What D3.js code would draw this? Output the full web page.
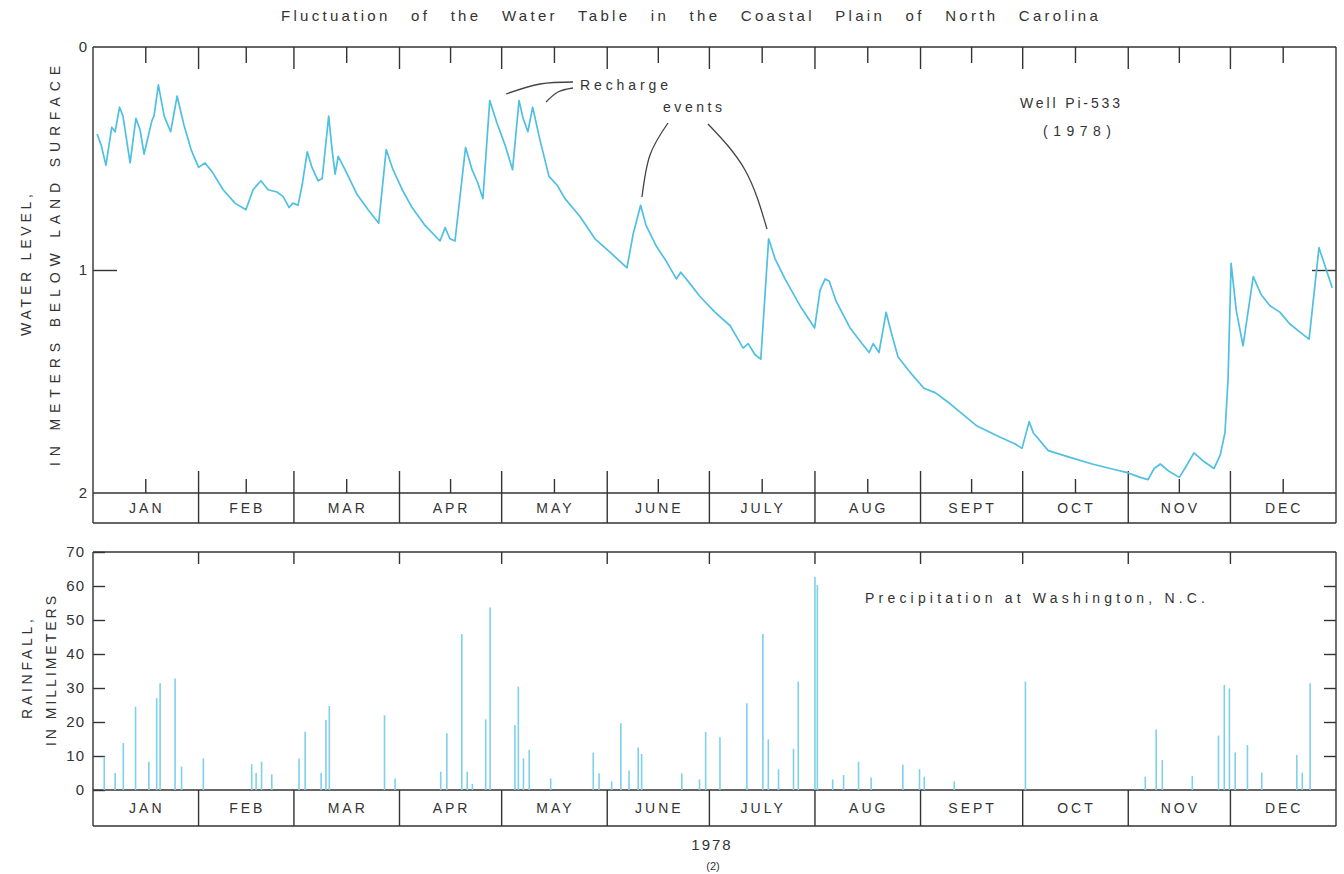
<!DOCTYPE html>
<html lang="en">
<head>
<meta charset="UTF-8">
<title>Fluctuation of the Water Table</title>
<script src="https://d3js.org/d3.v7.min.js"></script>
<style>
  body { margin: 0; background: #fff; }
  svg text { font-family: "Liberation Sans", "DejaVu Sans", sans-serif; fill: #333; }
</style>
</head>
<body>
<svg width="1344" height="874"></svg>
<script>
// months of 1978
var months = ['JAN','FEB','MAR','APR','MAY','JUNE','JULY','AUG','SEPT','OCT','NOV','DEC'];
var monthDays = [31,28,31,30,31,30,31,31,30,31,30,31];

// water level, meters below land surface (day of year, value)
var levelDay = [1.2,2.4,3.8,5.5,6.5,7.8,8.8,10.9,12.6,13.8,15.0,17.3,17.9,19.2,20.9,22.8,24.7,26.7,28.8,31.0,
  32.9,35.0,38.2,41.7,44.9,47.0,49.3,51.4,54.0,55.8,57.6,58.7,60.2,61.4,62.9,64.3,66.1,67.3,69.2,70.2,
  71.1,72.0,74.0,77.5,80.8,83.9,86.1,88.1,90.8,93.7,97.5,101.9,103.4,104.8,106.3,109.4,111.3,113.0,114.5,116.5,
  118.6,121.0,123.2,125.1,126.3,127.7,129.1,131.3,133.9,136.3,138.6,143.0,147.4,151.8,156.8,158.6,160.8,162.4,165.3,168.3,
  171.3,172.6,174.7,178.3,182.7,187.1,189.4,190.9,192.4,194.4,196.1,198.4,200.3,203.2,207.6,211.9,213.5,215.0,216.2,218.2,
  222.3,225.8,227.9,229.1,230.8,232.9,234.4,236.4,240.0,244.0,247.3,251.7,259.6,266.4,270.8,272.8,274.9,276.1,280.5,286.9,
  293.4,298.7,304.0,307.5,309.8,311.6,313.4,315.7,319.0,321.0,323.3,326.3,329.2,331.0,332.4,333.3,334.2,335.7,337.7,340.7,
  343.0,345.6,348.6,351.3,354.5,357.1,360.0,361.3,363.9];
var levelValue = [0.39,0.44,0.53,0.36,0.38,0.27,0.31,0.52,0.32,0.37,0.48,0.33,0.31,0.17,0.31,0.38,0.22,0.35,0.46,0.54,
  0.52,0.56,0.64,0.70,0.73,0.64,0.60,0.64,0.65,0.67,0.72,0.70,0.71,0.62,0.47,0.54,0.60,0.59,0.31,0.46,
  0.57,0.49,0.55,0.66,0.73,0.79,0.46,0.55,0.64,0.72,0.80,0.87,0.81,0.86,0.87,0.45,0.55,0.61,0.68,0.24,
  0.34,0.44,0.55,0.24,0.32,0.38,0.27,0.42,0.58,0.62,0.68,0.76,0.86,0.92,0.99,0.84,0.71,0.80,0.89,0.96,
  1.04,1.01,1.05,1.12,1.19,1.25,1.31,1.35,1.33,1.38,1.40,0.86,0.95,1.04,1.16,1.26,1.09,1.04,1.05,1.14,
  1.26,1.33,1.37,1.33,1.37,1.19,1.28,1.39,1.46,1.53,1.55,1.60,1.70,1.75,1.78,1.80,1.68,1.73,1.81,1.84,
  1.87,1.89,1.91,1.93,1.94,1.89,1.87,1.90,1.93,1.88,1.82,1.86,1.89,1.83,1.73,1.49,0.97,1.18,1.34,1.03,
  1.11,1.16,1.19,1.24,1.28,1.31,0.90,0.96,1.08];

// daily rainfall at Washington, N.C., mm
var rainDay = [3.3,6.5,8.9,12.5,16.4,18.7,19.7,24.1,26.0,32.4,46.6,47.9,49.5,52.5,60.5,62.3,67.0,68.4,69.4,85.6,
  88.7,102.1,103.9,108.3,109.9,111.4,115.3,116.6,123.9,124.9,126.4,128.1,134.4,146.9,148.6,152.3,155.0,157.4,160.1,161.1,
  172.9,178.1,179.9,184.1,192.0,196.7,198.3,201.3,205.7,207.1,212.0,212.7,217.2,220.4,224.8,228.5,237.8,242.7,244.1,252.9,
  273.8,309.0,312.2,314.0,322.8,330.5,332.2,333.7,335.4,339.0,343.2,353.5,355.1,357.4];
var rainMm = [9.8,5,13.8,24.5,8.3,27,31.4,32.8,6.9,9.3,7.6,5,8.3,4.6,9.3,17.1,5,20.6,24.7,22,
  3.4,5.4,16.7,45.9,5.4,1.8,20.8,53.7,19.1,30.4,9.3,11.8,3.4,11,4.9,2.5,19.6,5.7,12.5,10.6,
  4.9,3.1,17.1,15.5,25.5,45.9,14.9,6.1,12.1,31.9,62.7,60.3,3.1,4.4,8.3,3.7,7.4,6.1,3.9,2.5,
  31.9,3.9,17.8,8.8,4.1,16,30.9,29.9,11,13.2,5.1,10.3,5.1,31.4];

var levelTicks = [0, 1, 2];
var rainTicks = [0, 10, 20, 30, 40, 50, 60, 70];

var svg = d3.select('svg');
var ink = '#333';
var blue = '#4fc0e2';

var left = 93, right = 1336;
var x = d3.scaleLinear().domain([0, 365]).range([left, right]);
var yTop = d3.scaleLinear().domain([0, 2]).range([47, 493]);
var yBot = d3.scaleLinear().domain([0, 70]).range([790, 552]);

// month boundaries and mid points
var bounds = [0];
monthDays.forEach(function(d, i) { bounds.push(bounds[i] + d); });
var mids = months.map(function(m, i) { return (bounds[i] + bounds[i + 1]) / 2; });

function line(x1, y1, x2, y2, w) {
  svg.append('line').attr('x1', x1).attr('y1', y1).attr('x2', x2).attr('y2', y2)
    .attr('stroke', ink).attr('stroke-width', w || 1.4);
}

// frame, month band and ticks of one panel
function panel(y0, y1, bandH, topTick, topMid, botTick, botMid) {
  var yb = y1 + bandH;
  line(left, y0, right, y0);
  line(left, y1, right, y1);
  line(left, yb, right, yb);
  line(left, y0, left, yb);
  line(right, y0, right, yb);
  bounds.slice(1, -1).forEach(function(d) {
    line(x(d), y0, x(d), y0 + topTick);
    line(x(d), y1 - botTick, x(d), yb);
  });
  mids.forEach(function(d) {
    if (topMid) line(x(d), y0, x(d), y0 + topMid);
    if (botMid) line(x(d), y1 - botMid, x(d), y1);
  });
  svg.append('g').selectAll('text').data(months).enter().append('text')
    .attr('x', function(d, i) { return x(mids[i]) + 1; })
    .attr('y', y1 + bandH / 2 + 5)
    .attr('text-anchor', 'middle')
    .attr('font-size', 14)
    .attr('letter-spacing', 3)
    .text(function(d) { return d; });
}

// ---- water level panel ----
panel(yTop(0), yTop(2), 30, 22, 16, 22, 14);

var axL = svg.append('g').attr('transform', 'translate(' + left + ',0)')
  .call(d3.axisLeft(yTop).tickValues(levelTicks).tickSize(-24).tickPadding(6).tickFormat(d3.format('d')));
axL.select('.domain').remove();
axL.selectAll('line').attr('stroke', ink).attr('stroke-width', 1.4)
  .filter(function(d) { return d !== 1; }).remove();
axL.selectAll('text').attr('font-size', 15).attr('font-family', null).attr('fill', ink);

var axR = svg.append('g').attr('transform', 'translate(' + right + ',0)')
  .call(d3.axisRight(yTop).tickValues([1]).tickSize(-24).tickFormat(''));
axR.select('.domain').remove();
axR.selectAll('line').attr('stroke', ink).attr('stroke-width', 1.4);

var levelData = levelDay.map(function(d, i) { return { day: d, v: levelValue[i] }; });
svg.append('path').datum(levelData)
  .attr('fill', 'none').attr('stroke', blue).attr('stroke-width', 1.7)
  .attr('stroke-linejoin', 'round')
  .attr('d', d3.line().x(function(d) { return x(d.day); }).y(function(d) { return yTop(d.v); }));

// ---- rainfall panel ----
panel(yBot(70), yBot(0), 36, 12, 0, 0, 0);

var axL2 = svg.append('g').attr('transform', 'translate(' + left + ',0)')
  .call(d3.axisLeft(yBot).tickValues(rainTicks).tickSize(-12).tickPadding(8));
axL2.select('.domain').remove();
axL2.selectAll('line').attr('stroke', ink).attr('stroke-width', 1.4);
axL2.selectAll('text').attr('font-size', 15).attr('font-family', null).attr('fill', ink).attr('letter-spacing', 1);

var axR2 = svg.append('g').attr('transform', 'translate(' + right + ',0)')
  .call(d3.axisRight(yBot).tickValues(rainTicks.slice(1, -1)).tickSize(-12).tickFormat(''));
axR2.select('.domain').remove();
axR2.selectAll('line').attr('stroke', ink).attr('stroke-width', 1.4);

svg.append('g').selectAll('line').data(rainDay).enter().append('line')
  .attr('x1', function(d) { return x(d); }).attr('x2', function(d) { return x(d); })
  .attr('y1', yBot(0)).attr('y2', function(d, i) { return yBot(rainMm[i]); })
  .attr('stroke', '#7fd0ea').attr('stroke-width', 1.6);

// ---- texts ----
function label(txt, xx, yy, size, len, anchor) {
  var t = svg.append('text').attr('x', xx).attr('y', yy).attr('font-size', size).text(txt);
  if (len) t.attr('textLength', len).attr('lengthAdjust', 'spacing');
  if (anchor) t.attr('text-anchor', anchor);
  return t;
}
label('Fluctuation of the Water Table in the Coastal Plain of North Carolina', 691, 21, 15, 0, 'middle')
  .attr('letter-spacing', 3.3).attr('word-spacing', 13);
label('Recharge', 580, 90, 14, 88);
label('events', 663, 112, 14, 59);
label('Well Pi-533', 1020, 108, 14, 100);
label('(1978)', 1043, 136, 14, 68);
label('Precipitation at Washington, N.C.', 865, 603, 14, 340);
label('1978', 712, 850, 15, 0, 'middle').attr('letter-spacing', 2);
label('(2)', 713, 870, 11, 0, 'middle');

function vlabel(txt, xx, yc, len) {
  svg.append('text').attr('transform', 'translate(' + xx + ',' + yc + ') rotate(-90)')
    .attr('x', -len / 2).attr('y', 0).attr('font-size', 14)
    .attr('textLength', len).attr('lengthAdjust', 'spacing').text(txt);
}
vlabel('WATER LEVEL,', 31, 265, 142);
vlabel('IN METERS BELOW LAND SURFACE', 60, 266, 400);
vlabel('RAINFALL,', 32, 669, 100);
vlabel('IN MILLIMETERS', 56, 671, 150);

// leader lines for the recharge annotation
var leaders = [
  [[573, 82], [540, 84], [506, 94]],
  [[573, 88], [558, 92], [546, 102]],
  [[668, 123], [650, 155], [642, 197]],
  [[708, 124], [745, 170], [767, 229]]
];
svg.append('g').selectAll('path').data(leaders).enter().append('path')
  .attr('fill', 'none').attr('stroke', '#444').attr('stroke-width', 1.3)
  .attr('d', d3.line().curve(d3.curveNatural));
</script>
</body>
</html>
